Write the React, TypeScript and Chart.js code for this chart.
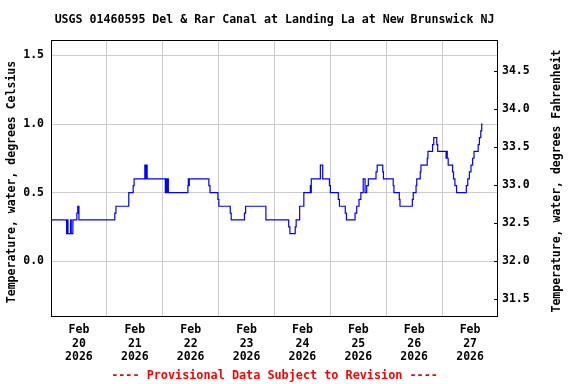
import React, { useEffect, useRef } from 'react';
import { Chart, registerables } from 'chart.js';

Chart.register(...registerables);

const TITLE = 'USGS 01460595 Del & Rar Canal at Landing La at New Brunswick NJ';
const LEFT_TITLE = 'Temperature, water, degrees Celsius';
const RIGHT_TITLE = 'Temperature, water, degrees Fahrenheit';
const FOOTER = '---- Provisional Data Subject to Revision ----';

const monthLabel = 'Feb';
const yearLabel = '2026';
const dayLabels = ['20', '21', '22', '23', '24', '25', '26', '27'];

const celsiusTicks = [0, 0.5, 1.0, 1.5];
const fahrenheitTicks = [31.5, 32.0, 32.5, 33.0, 33.5, 34.0, 34.5];

// hours since Feb 20 00:00 at which the reading changes, and the new value (deg C)
const changeHours = [
  0, 6.7, 7.0, 7.3, 8.4, 8.7, 9.4, 11.1, 11.5, 12.0,
  27.4, 27.9, 33.4, 35.3, 35.7, 40.3, 40.7, 40.9, 41.3,
  49.1, 49.4, 49.8, 50.1, 50.4, 58.8, 59.0, 59.2, 59.4,
  67.8, 68.3, 71.7, 72.1, 77.0, 77.4, 83.1, 83.6, 92.3,
  102.1, 102.6, 104.9, 105.3, 106.8, 108.6, 111.4, 111.6, 111.8,
  115.7, 116.7, 119.6, 120.0, 123.4, 123.9, 126.4, 126.9,
  130.6, 131.3, 132.3, 133.1, 134.1, 134.9, 135.6, 136.3,
  139.6, 140.1, 142.5, 142.8, 147.0, 147.3, 149.6, 149.9,
  155.2, 155.6, 156.8, 157.1, 158.6, 158.9, 161.6, 161.9,
  163.9, 164.4, 165.7, 166.1, 169.7, 170.0, 170.2, 170.6,
  172.5, 172.9, 173.5, 174.2, 178.4, 179.0, 179.7, 180.4,
  181.1, 181.7, 183.5, 184.0, 184.6, 185.0, 185.4,
];
const tempC = [
  0.3, 0.2, 0.3, 0.2, 0.3, 0.2, 0.3, 0.35, 0.4, 0.3,
  0.35, 0.4, 0.5, 0.55, 0.6, 0.7, 0.6, 0.7, 0.6,
  0.5, 0.6, 0.5, 0.6, 0.5, 0.55, 0.6, 0.55, 0.6,
  0.55, 0.5, 0.45, 0.4, 0.35, 0.3, 0.35, 0.4, 0.3,
  0.25, 0.2, 0.25, 0.3, 0.4, 0.5, 0.55, 0.5, 0.6,
  0.7, 0.6, 0.55, 0.5, 0.45, 0.4, 0.35, 0.3,
  0.35, 0.4, 0.45, 0.5, 0.6, 0.5, 0.55, 0.6,
  0.65, 0.7, 0.65, 0.6, 0.55, 0.5, 0.45, 0.4,
  0.45, 0.5, 0.55, 0.6, 0.65, 0.7, 0.75, 0.8,
  0.85, 0.9, 0.85, 0.8, 0.75, 0.8, 0.75, 0.7,
  0.65, 0.6, 0.55, 0.5, 0.55, 0.6, 0.65, 0.7,
  0.75, 0.8, 0.85, 0.9, 0.95, 1.0, 1.0,
];

const C_MIN = -0.401;
const C_MAX = 1.613;
const toF = (c: number) => c * 1.8 + 32;

const MONO = '"DejaVu Sans Mono", monospace';

export default function App() {
  const ref = useRef<HTMLCanvasElement | null>(null);

  useEffect(() => {
    if (!ref.current) return;
    const decor = {
      id: 'decor',
      afterDraw(chart: any) {
        const { ctx, chartArea } = chart;
        const { left, right, top, bottom } = chartArea;
        ctx.save();
        // frame
        ctx.strokeStyle = '#000';
        ctx.lineWidth = 1;
        ctx.strokeRect(Math.round(left) + 0.5, Math.round(top) + 0.5, Math.round(right - left) - 1, Math.round(bottom - top));
        // right inside ticks
        const y2 = chart.scales.y2;
        fahrenheitTicks.forEach((f) => {
          const py = Math.round(y2.getPixelForValue(f)) + 0.5;
          ctx.beginPath();
          ctx.moveTo(right - 4, py);
          ctx.lineTo(right, py);
          ctx.stroke();
        });
        // texts
        ctx.fillStyle = '#000';
        ctx.textAlign = 'center';
        ctx.textBaseline = 'middle';
        ctx.font = `bold 11.6px ${MONO}`;
        ctx.fillText(TITLE, (left + right) / 2, 20);
        ctx.font = `bold 11.5px ${MONO}`;
        ctx.save();
        ctx.translate(12, (top + bottom) / 2 + 4);
        ctx.rotate(-Math.PI / 2);
        ctx.fillText(LEFT_TITLE, 0, 0);
        ctx.restore();
        ctx.save();
        ctx.translate(557, (top + bottom) / 2 + 3);
        ctx.rotate(-Math.PI / 2);
        ctx.fillText(RIGHT_TITLE, 0, 0);
        ctx.restore();
        ctx.fillStyle = '#ff0000';
        ctx.font = `bold 11.8px ${MONO}`;
        ctx.fillText(FOOTER, (left + right) / 2, 376);
        ctx.restore();
      },
    };

    const chart = new Chart(ref.current, {
      type: 'line',
      data: {
        datasets: [
          {
            data: changeHours.map((h, i) => ({ x: h, y: tempC[i] })),
            borderColor: '#0000ff',
            borderWidth: 1.2,
            pointRadius: 0,
            stepped: 'before',
            fill: false,
            yAxisID: 'y',
          },
        ],
      },
      options: {
        animation: false,
        responsive: false,
        devicePixelRatio: 1,
        layout: { padding: { top: 40, left: 0, right: 0, bottom: 0 } },
        plugins: { legend: { display: false }, tooltip: { enabled: false }, title: { display: false } },
        scales: {
          x: {
            type: 'linear',
            min: 0,
            max: 192,
            afterBuildTicks: (s: any) => {
              const t = [];
              for (let v = 0; v <= 192; v += 12) t.push({ value: v });
              s.ticks = t;
            },
            afterFit: (s: any) => {
              s.height = 68;
            },
            ticks: {
              autoSkip: false,
              maxRotation: 0,
              minRotation: 0,
              padding: 7,
              color: '#000',
              font: { family: MONO, size: 11.5, weight: 'bold', lineHeight: 1.2 },
              callback: (v: any) => {
                const n = Number(v);
                if (n % 24 === 12) {
                  const d = dayLabels[Math.floor(n / 24)];
                  return [monthLabel, d, yearLabel];
                }
                return '';
              },
            },
            grid: {
              drawTicks: false,
              color: (c: any) => {
                const v = c.tick ? c.tick.value : -1;
                return v > 0 && v < 192 && v % 24 === 0 ? '#cccccc' : 'rgba(0,0,0,0)';
              },
            },
            border: { display: false },
          },
          y: {
            type: 'linear',
            position: 'left',
            min: C_MIN,
            max: C_MAX,
            afterBuildTicks: (s: any) => {
              s.ticks = celsiusTicks.map((v) => ({ value: v }));
            },
            afterFit: (s: any) => {
              s.width = 51;
            },
            ticks: {
              padding: 7,
              color: '#000',
              font: { family: MONO, size: 11.5, weight: 'bold' },
              callback: (v: any) => Number(v).toFixed(1),
            },
            grid: { drawTicks: false, color: '#cccccc' },
            border: { display: false },
          },
          y2: {
            type: 'linear',
            position: 'right',
            min: toF(C_MIN),
            max: toF(C_MAX),
            afterBuildTicks: (s: any) => {
              s.ticks = fahrenheitTicks.map((v) => ({ value: v }));
            },
            afterFit: (s: any) => {
              s.width = 78;
            },
            ticks: {
              padding: 4,
              color: '#000',
              font: { family: MONO, size: 11.5, weight: 'bold' },
              callback: (v: any) => Number(v).toFixed(1),
            },
            grid: { display: false, drawTicks: false },
            border: { display: false },
          },
        },
      },
      plugins: [decor],
    } as any);
    return () => chart.destroy();
  }, []);

  return (
    <div style={{ position: 'absolute', left: 0, top: 0, width: 576, height: 384, background: '#fff' }}>
      <canvas ref={ref} width={576} height={384} style={{ width: 576, height: 384, display: 'block' }} />
    </div>
  );
}
